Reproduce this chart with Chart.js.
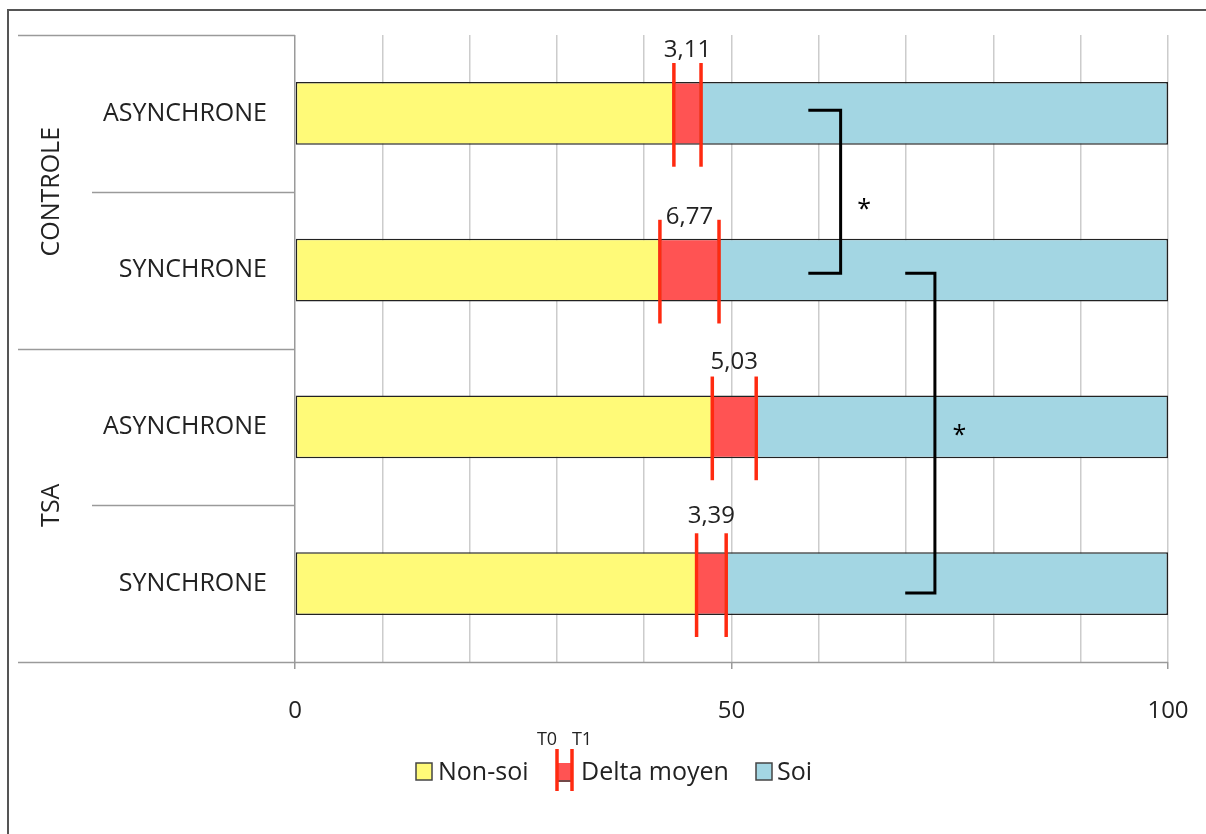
<!DOCTYPE html>
<html>
<head>
<meta charset="utf-8">
<script src="https://cdn.jsdelivr.net/npm/chart.js@4.4.1/dist/chart.umd.min.js"></script>
<style>
    body { margin: 0; background: #fff; }
    canvas { display: block; }
</style>
</head>
<body>
<canvas id="chart" width="1206" height="834"></canvas>
<script>
// rows, top to bottom
const groups = ['CONTROLE', 'TSA'];
const rowLabels = ['ASYNCHRONE', 'SYNCHRONE', 'ASYNCHRONE', 'SYNCHRONE'];
const nonSoi = [43.4, 41.8, 47.8, 46.0];
const deltaMoyen = [3.11, 6.77, 5.03, 3.39];
const soi = [53.49, 51.43, 47.17, 50.61];
const xTickLabels = [0, 50, 100];

// significance brackets (row indexes, x values)
const bracketRows = [[-0.02, 1.02], [1.02, 3.06]];
const bracketX = [[58.8, 62.5], [69.9, 73.3]];
const starPos = [[65.2, 0.59], [76.1, 2.03]];

const FONT = '"Open Sans", "Noto Sans", sans-serif';
const textColor = '#222';
const labelLift = [32, 22, 33, 36]; // how far above the bar each delta value sits

const decorations = {
    id: 'decorations',
    afterDatasetsDraw(chart) {
        const ctx = chart.ctx;
        const x = chart.scales.x;
        const y = chart.scales.y;
        const meta = chart.getDatasetMeta(1);

        ctx.save();
        // T0 / T1 lines and delta values
        meta.data.forEach((bar, i) => {
            const half = bar.height / 2;
            const top = bar.y - half;
            const bottom = bar.y + half;
            const x0 = x.getPixelForValue(nonSoi[i]);
            const x1 = x.getPixelForValue(nonSoi[i] + deltaMoyen[i]);
            ctx.strokeStyle = '#ff2a10';
            ctx.lineWidth = 3.5;
            [x0, x1].forEach(px => {
                ctx.beginPath();
                ctx.moveTo(px, top - 19);
                ctx.lineTo(px, bottom + 22);
                ctx.stroke();
            });
            ctx.fillStyle = textColor;
            ctx.font = '24px ' + FONT;
            ctx.textAlign = 'center';
            ctx.textBaseline = 'middle';
            ctx.fillText(deltaMoyen[i].toFixed(2).replace('.', ','), (x0 + x1) / 2, top - labelLift[i]);
        });

        // brackets
        ctx.strokeStyle = '#000';
        ctx.lineWidth = 3;
        bracketRows.forEach((rows, k) => {
            const ya = y.getPixelForValue(rows[0]);
            const yb = y.getPixelForValue(rows[1]);
            const xa = x.getPixelForValue(bracketX[k][0]);
            const xb = x.getPixelForValue(bracketX[k][1]);
            ctx.beginPath();
            ctx.moveTo(xa, ya);
            ctx.lineTo(xb, ya);
            ctx.lineTo(xb, yb);
            ctx.lineTo(xa, yb);
            ctx.stroke();
        });
        ctx.fillStyle = '#000';
        ctx.font = '25px ' + FONT;
        ctx.textAlign = 'center';
        ctx.textBaseline = 'middle';
        starPos.forEach(p => {
            ctx.fillText('*', x.getPixelForValue(p[0]), y.getPixelForValue(p[1]) + 4);
        });
        ctx.restore();
    },
    afterDraw(chart) {
        const ctx = chart.ctx;
        const y = chart.scales.y;
        const area = chart.chartArea;
        ctx.save();

        // category axis lines
        ctx.strokeStyle = '#9a9a9a';
        ctx.lineWidth = 1.5;
        for (let i = 0; i <= rowLabels.length; i++) {
            const py = Math.round(y.getPixelForValue(i - 0.5)) + 0.5;
            const startX = i % 2 === 0 ? 18 : 92;
            ctx.beginPath();
            ctx.moveTo(startX, py);
            ctx.lineTo(i === rowLabels.length ? area.right : area.left, py);
            ctx.stroke();
        }

        // row labels
        ctx.fillStyle = textColor;
        ctx.font = '25px ' + FONT;
        ctx.textAlign = 'right';
        ctx.textBaseline = 'middle';
        rowLabels.forEach((lab, i) => {
            ctx.fillText(lab, 267, y.getPixelForValue(i));
        });

        // group labels, rotated
        groups.forEach((g, k) => {
            const cy = y.getPixelForValue(k * 2 + 0.5);
            ctx.save();
            ctx.translate(52, cy);
            ctx.rotate(-Math.PI / 2);
            ctx.textAlign = 'center';
            ctx.fillText(g, 0, 0);
            ctx.restore();
        });

        // legend
        const ly = 773;
        ctx.lineWidth = 1.5;
        ctx.strokeStyle = '#444';
        ctx.fillStyle = chart.data.datasets[0].backgroundColor;
        ctx.fillRect(416, ly - 10, 16, 17);
        ctx.strokeRect(416, ly - 10, 16, 17);
        ctx.fillStyle = chart.data.datasets[1].backgroundColor;
        ctx.fillRect(558, ly - 10, 14, 19);
        ctx.beginPath();
        ctx.moveTo(558, ly + 8);
        ctx.lineTo(572, ly + 8);
        ctx.stroke();
        ctx.strokeStyle = '#ff2a10';
        ctx.lineWidth = 3.5;
        [557, 572].forEach(px => {
            ctx.beginPath();
            ctx.moveTo(px, ly - 24);
            ctx.lineTo(px, ly + 18);
            ctx.stroke();
        });
        ctx.strokeStyle = '#444';
        ctx.lineWidth = 1.5;
        ctx.fillStyle = chart.data.datasets[2].backgroundColor;
        ctx.fillRect(756, ly - 10, 16, 17);
        ctx.strokeRect(756, ly - 10, 16, 17);

        ctx.fillStyle = textColor;
        ctx.textAlign = 'left';
        ctx.font = '25px ' + FONT;
        ctx.fillText(chart.data.datasets[0].label, 438, ly);
        ctx.fillText(chart.data.datasets[1].label, 581, ly);
        ctx.fillText(chart.data.datasets[2].label, 777, ly);
        ctx.font = '18px ' + FONT;
        ctx.textAlign = 'center';
        ctx.fillText('T0', 547, ly - 33);
        ctx.fillText('T1', 582, ly - 33);

        // outer frame
        ctx.strokeStyle = '#555';
        ctx.lineWidth = 2;
        ctx.strokeRect(8, 10, 1210, 840);
        ctx.restore();
    }
};

const ctx = document.getElementById('chart').getContext('2d');
const barStyle = {
    borderColor: '#222',
    borderWidth: 1.5,
    borderSkipped: false,
    categoryPercentage: 1,
    barPercentage: 0.4
};

new Chart(ctx, {
    type: 'bar',
    data: {
        labels: rowLabels,
        datasets: [
            Object.assign({ label: 'Non-soi', data: nonSoi, backgroundColor: '#fffa78' }, barStyle),
            Object.assign({ label: 'Delta moyen', data: deltaMoyen, backgroundColor: '#ff5353' }, barStyle),
            Object.assign({ label: 'Soi', data: soi, backgroundColor: '#a3d6e3' }, barStyle)
        ]
    },
    options: {
        indexAxis: 'y',
        responsive: false,
        animation: false,
        layout: { padding: { left: 295, right: 38, top: 35, bottom: 112 } },
        scales: {
            x: {
                stacked: true,
                min: 0,
                max: 100,
                afterFit: s => {
                    s.height = 60;
                    s.paddingLeft = 0;
                    s.paddingRight = 0;
                },
                ticks: {
                    stepSize: 10,
                    autoSkip: false,
                    maxRotation: 0,
                    padding: 28,
                    color: textColor,
                    font: { family: FONT, size: 24 },
                    callback: v => xTickLabels.includes(v) ? v : ''
                },
                grid: {
                    color: c => c.tick && c.tick.value === 0 ? '#9a9a9a' : '#cccccc',
                    lineWidth: 1.5,
                    tickLength: 7,
                    tickColor: c => c.tick && xTickLabels.includes(c.tick.value) ? '#9a9a9a' : 'rgba(0,0,0,0)'
                },
                border: { display: false }
            },
            y: {
                stacked: true,
                display: false
            }
        },
        plugins: {
            legend: { display: false },
            tooltip: { enabled: false }
        }
    },
    plugins: [decorations]
});
</script>
</body>
</html>
